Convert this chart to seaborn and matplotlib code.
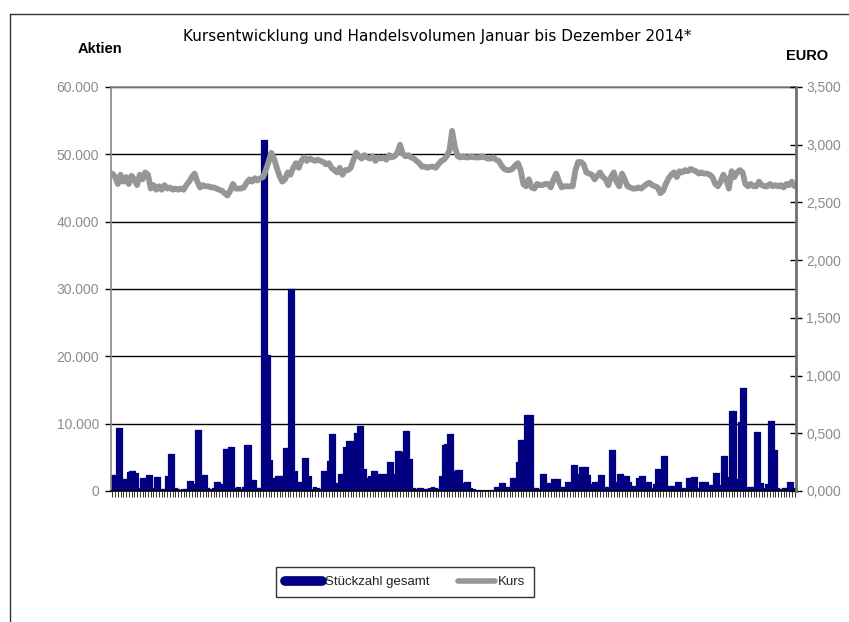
import numpy as np
import pandas as pd
import matplotlib
matplotlib.use("Agg")
import matplotlib.pyplot as plt
from matplotlib.lines import Line2D
from matplotlib.ticker import FuncFormatter, MultipleLocator
import seaborn as sns

title = "Kursentwicklung und Handelsvolumen Januar bis Dezember 2014*"
left_label = "Aktien"
right_label = "EURO"
bar_name = "Stückzahl gesamt"
line_name = "Kurs"

volume = [
    2200, 2200, 9200, 9200, 1600, 1600, 2600, 2800, 2800, 2500,
    300, 1750, 1750, 2250, 2250, 300, 1950, 1950, 200, 200,
    2100, 5350, 5350, 300, 100, 0, 150, 100, 1350, 1350,
    950, 8850, 8850, 2200, 2200, 300, 200, 300, 1200, 1200,
    850, 6100, 6100, 6450, 6450, 300, 500, 200, 400, 6700,
    6700, 1450, 1450, 300, 300, 52000, 52000, 20000, 4400, 1850,
    2100, 2100, 2100, 6250, 6250, 29800, 29800, 2850, 1250, 1250,
    4700, 4700, 2100, 200, 400, 300, 200, 2850, 2850, 4350,
    8250, 8250, 1100, 2450, 2450, 6350, 7350, 7350, 7350, 8450,
    9450, 9450, 3100, 1850, 2100, 2750, 2750, 2350, 2350, 2350,
    2350, 4100, 4100, 2350, 5850, 5850, 5600, 8700, 8700, 4600,
    300, 200, 250, 300, 200, 150, 300, 400, 300, 200,
    2100, 6700, 6850, 8250, 8250, 2850, 2950, 2950, 1100, 1200,
    1200, 350, 100, 0, 0, 0, 50, 0, 0, 0,
    450, 450, 1100, 1100, 450, 450, 1850, 1850, 4100, 7500,
    7500, 11100, 11100, 11100, 300, 300, 200, 2450, 2450, 1100,
    1100, 1700, 1700, 1700, 500, 500, 1250, 1250, 3750, 3750,
    2450, 3450, 3450, 3450, 2200, 950, 1250, 1250, 2250, 2250,
    400, 400, 6000, 6000, 1250, 2400, 2400, 2150, 2150, 1150,
    650, 650, 1750, 2050, 2050, 1150, 1150, 300, 900, 3150,
    3150, 5000, 5000, 650, 650, 650, 1150, 1150, 300, 300,
    1800, 1800, 1900, 1900, 300, 1150, 1150, 1150, 750, 750,
    2500, 2500, 750, 5050, 5050, 1900, 11800, 11800, 1650, 10050,
    15150, 15150, 400, 400, 400, 8550, 8550, 1000, 300, 900,
    10300, 10300, 6000, 300, 200, 300, 300, 1150, 1150, 300,
]

price = [
    2.75, 2.72, 2.66, 2.74, 2.68, 2.72, 2.66, 2.73, 2.70, 2.65, 2.74,
    2.70, 2.76, 2.74,
    2.62, 2.65, 2.61, 2.64, 2.61, 2.65, 2.62,
    2.63, 2.61, 2.62, 2.61, 2.62, 2.61,
    2.65, 2.68, 2.72, 2.75, 2.68,
    2.63, 2.65, 2.64, 2.64, 2.63, 2.63,
    2.62, 2.61, 2.60, 2.58, 2.56,
    2.60, 2.66, 2.62, 2.62,
    2.62, 2.63, 2.67, 2.70, 2.68,
    2.71, 2.69, 2.71, 2.72,
    2.78, 2.85, 2.93, 2.88,
    2.80, 2.73, 2.68,
    2.70, 2.76, 2.74, 2.80,
    2.84, 2.80, 2.86, 2.89,
    2.86, 2.88, 2.87, 2.86,
    2.87, 2.86, 2.85, 2.83, 2.84,
    2.80, 2.78, 2.76, 2.80, 2.74,
    2.78, 2.78, 2.80, 2.87,
    2.93, 2.90, 2.88, 2.91,
    2.89, 2.88, 2.90, 2.86, 2.89, 2.88, 2.89, 2.87, 2.91, 2.89, 2.90,
    2.93, 3.00, 2.92,
    2.90, 2.91, 2.89, 2.88, 2.86, 2.84,
    2.81, 2.81, 2.80, 2.81, 2.81, 2.80, 2.83,
    2.86, 2.87, 2.90, 2.95,
    3.12,
    2.98, 2.90,
    2.89, 2.90, 2.89, 2.89, 2.90, 2.89, 2.89, 2.89, 2.90, 2.89, 2.88, 2.88, 2.89, 2.87,
    2.86, 2.82, 2.79, 2.78, 2.78, 2.79,
    2.82, 2.84, 2.78,
    2.66, 2.64, 2.70,
    2.63, 2.62, 2.66, 2.65, 2.65, 2.66, 2.66, 2.63,
    2.70, 2.75, 2.68,
    2.63, 2.64, 2.64, 2.64, 2.64,
    2.78, 2.85, 2.85, 2.83,
    2.76, 2.75, 2.74, 2.70, 2.73, 2.76, 2.72, 2.70,
    2.65, 2.72, 2.76, 2.68, 2.64, 2.75, 2.70, 2.64,
    2.63, 2.62, 2.62, 2.63, 2.62, 2.64, 2.66,
    2.67, 2.65, 2.64, 2.63,
    2.58, 2.60, 2.66,
    2.71, 2.74, 2.76, 2.72, 2.77,
    2.76, 2.78, 2.77, 2.79, 2.78, 2.77, 2.75,
    2.76, 2.75, 2.75, 2.74, 2.72, 2.66, 2.64,
    2.68, 2.74, 2.70,
    2.62, 2.77, 2.72,
    2.76, 2.78, 2.76, 2.66,
    2.64, 2.66, 2.64, 2.64, 2.68, 2.65, 2.64, 2.64, 2.66, 2.64, 2.65, 2.64, 2.65, 2.63, 2.66, 2.65, 2.68, 2.64,
]

n = min(len(volume), len(price))
day = list(range(n))
df = pd.DataFrame({"day": day, "volume": volume[:n], "price": price[:n]})

sns.set_theme(style="white")
plt.rcParams["font.family"] = ["Liberation Sans", "DejaVu Sans"]

BAR = "#000080"
LINE = "#969696"
TICKC = "#8c8c8c"

fig = plt.figure(figsize=(8.49, 6.22), dpi=100)
fig.patch.set_facecolor("white")
ax = fig.add_axes([111/849, 1 - 491/622, (796-111)/849, (491-87)/622])

sns.barplot(data=df, x="day", y="volume", color=BAR, width=0.85,
            edgecolor=BAR, linewidth=1.6, saturation=1, ax=ax)
ax.set_xlim(-0.5, n - 0.5)
ax.set_ylim(0, 60000)
ax.yaxis.set_major_locator(MultipleLocator(10000))
ax.yaxis.set_major_formatter(FuncFormatter(lambda v, p: "0" if v == 0 else f"{v:,.0f}".replace(",", ".")))
ax.grid(axis="y", color="black", linewidth=1)
ax.set_axisbelow(True)
ax.set_xlabel("")
ax.set_ylabel("")
ax.set_xticks(range(n))
ax.set_xticklabels([])
ax.tick_params(axis="x", direction="out", length=4, width=0.7, color="#333333", bottom=True)
ax.tick_params(axis="y", direction="out", length=4.5, width=1, color="black", left=True,
               labelsize=10, labelcolor=TICKC, pad=4)
for s in ["left", "top"]:
    ax.spines[s].set_color("#888888")
    ax.spines[s].set_linewidth(1.2)
ax.spines["right"].set_visible(False)
ax.spines["bottom"].set_color("black")
ax.spines["bottom"].set_linewidth(1.2)

ax2 = ax.twinx()
sns.lineplot(data=df, x="day", y="price", color=LINE, linewidth=4.2, ax=ax2,
             solid_joinstyle="round", solid_capstyle="round")
ax2.set_ylim(0, 3.5)
ax2.set_xlim(-0.5, n - 0.5)
ax2.yaxis.set_major_locator(MultipleLocator(0.5))
ax2.yaxis.set_major_formatter(FuncFormatter(lambda v, p: f"{v:.3f}".replace(".", ",")))
ax2.set_ylabel("")
ax2.set_xlabel("")
ax2.tick_params(axis="y", direction="inout", length=9, width=1, color="black", right=True,
                labelsize=10, labelcolor=TICKC, pad=3)
for s in ["left", "top", "bottom"]:
    ax2.spines[s].set_visible(False)
ax2.spines["right"].set_color("#707070")
ax2.spines["right"].set_linewidth(2)

fig.text(437/849, 1 - 37/622, title, ha="center", va="center", fontsize=11,
         family=["DejaVu Sans"], color="black")
fig.text(100/849, 1 - 49/622, left_label, ha="center", va="center", fontsize=10.5,
         fontweight="bold", color="black")
fig.text(807/849, 1 - 56/622, right_label, ha="center", va="center", fontsize=10.5,
         fontweight="bold", color="black")

# outer frame (left and top edges)
fig.add_artist(Line2D([10/849, 10/849], [0, 1 - 14/622], transform=fig.transFigure,
                      color="#333333", linewidth=1))
fig.add_artist(Line2D([10/849, 1], [1 - 14/622, 1 - 14/622], transform=fig.transFigure,
                      color="#333333", linewidth=1))

handles = [Line2D([0], [0], color=BAR, linewidth=7, solid_capstyle="round"),
           Line2D([0], [0], color=LINE, linewidth=4, solid_capstyle="round")]
leg = fig.legend(handles, [bar_name, line_name], loc="center",
                 bbox_to_anchor=(405/849, 1 - 582/622), ncol=2, frameon=True,
                 fancybox=False, edgecolor="black", fontsize=9.5, handlelength=2.8,
                 handletextpad=0.2, columnspacing=2.2, borderpad=0.7,
                 borderaxespad=0)
leg.get_frame().set_linewidth(1)
for t in leg.get_texts():
    t.set_color("#222222")

fig.savefig("out.png", dpi=100, facecolor="white")
